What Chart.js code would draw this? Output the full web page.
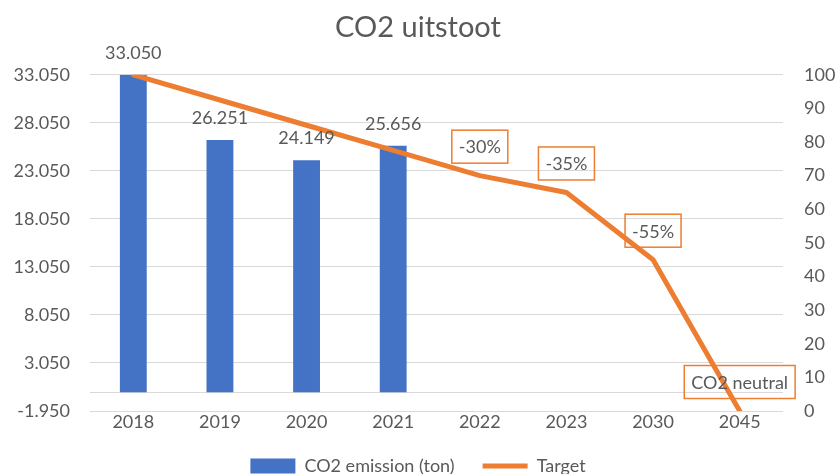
<!DOCTYPE html>
<html>
<head>
<meta charset="utf-8">
<script src="https://cdn.jsdelivr.net/npm/chart.js@4/dist/chart.umd.min.js"></script>
<style>
  html,body{margin:0;padding:0;background:#fff;overflow:hidden}
  #wrap{width:836px;height:485px;position:relative}
</style>
</head>
<body>
<div id="wrap"><canvas id="c"></canvas></div>
<script>
const years = ['2018','2019','2020','2021','2022','2023','2030','2045'];
const emission = [33050, 26251, 24149, 25656, null, null, null, null];
const target = [100, 92.5, 85, 77.5, 70, 65, 45, 0];
const targetLabels = ['', '', '', '', '-30%', '-35%', '-55%', 'CO2 neutral'];
const leftMin = -1950, leftMax = 33050, leftStep = 5000;
const rightMin = 0, rightMax = 100, rightStep = 10;

const BLUE = '#4472C4', ORANGE = '#ED7D31', TXT = '#595959', GRID = '#D9D9D9';
const FONT = 'Lato, "Open Sans", sans-serif';

// 33050 -> "33.050"
function nl(v){
  const s = String(Math.abs(Math.round(v))).replace(/\B(?=(\d{3})+(?!\d))/g, '.');
  return (v < 0 ? '-' : '') + s;
}

// extra line at zero and the data labels
const labelsPlugin = {
  id: 'labelsPlugin',
  beforeDatasetsDraw(chart){
    const {ctx, chartArea, scales} = chart;
    const y0 = Math.round(scales.y.getPixelForValue(0)) + 0.5;
    ctx.save();
    ctx.strokeStyle = GRID; ctx.lineWidth = 1;
    ctx.beginPath(); ctx.moveTo(chartArea.left, y0); ctx.lineTo(chartArea.right, y0); ctx.stroke();
    ctx.restore();
  },
  afterDatasetsDraw(chart){
    const {ctx} = chart;
    ctx.save();
    ctx.font = '18px ' + FONT;
    ctx.fillStyle = TXT;
    ctx.textAlign = 'center'; ctx.textBaseline = 'middle';
    chart.getDatasetMeta(0).data.forEach((bar, i)=>{
      if (emission[i] == null) return;
      ctx.fillText(nl(emission[i]), bar.x, bar.y - 22);
    });
    chart.getDatasetMeta(1).data.forEach((pt, i)=>{
      const t = targetLabels[i]; if (!t) return;
      const w = ctx.measureText(t).width + 14, h = 33;
      const cy = pt.y - 29;
      ctx.strokeStyle = ORANGE; ctx.lineWidth = 1.5;
      ctx.strokeRect(pt.x - w/2, cy - h/2, w, h);
      ctx.fillText(t, pt.x, cy + 1);
    });
    ctx.restore();
  }
};

new Chart(document.getElementById('c'), {
  data: {
    labels: years,
    datasets: [
      { type:'bar', label:'CO2 emission (ton)', data: emission, backgroundColor: BLUE, yAxisID:'y',
        barPercentage: 0.31, categoryPercentage: 1, order: 2 },
      { type:'line', label:'Target', data: target, borderColor: ORANGE, backgroundColor: ORANGE,
        borderWidth: 5, pointRadius: 0, tension: 0, yAxisID:'y1', order: 1,
        borderJoinStyle:'round', borderCapStyle:'round' }
    ]
  },
  options: {
    responsive: true, maintainAspectRatio: false, animation: false,
    layout: { padding: 0 },
    plugins: {
      title: { display: true, text: 'CO2 uitstoot', color: TXT,
        font: { family: FONT, size: 29, weight: 'normal' }, padding: { top: 10, bottom: 30 } },
      legend: { position: 'bottom',
        labels: { color: TXT, font: { family: FONT, size: 18 }, usePointStyle: true, pointStyleWidth: 45,
          boxHeight: 15, padding: 28,
          generateLabels(chart){
            return chart.data.datasets.map((d, i)=>({
              text: d.label, fillStyle: d.backgroundColor, strokeStyle: d.type==='line' ? ORANGE : BLUE,
              lineWidth: d.type==='line' ? 5 : 0, pointStyle: d.type==='line' ? 'line' : 'rect',
              fontColor: TXT, datasetIndex: i, hidden: false
            }));
          } } },
      tooltip: { enabled: false }
    },
    scales: {
      x: { grid: { display: false, drawTicks: false }, border: { display: false },
        afterFit(s){ s.height = 18; },
        ticks: { color: TXT, font: { family: FONT, size: 18 }, padding: 0 } },
      y: { position: 'left', min: leftMin, max: leftMax,
        afterFit(s){ s.width = 90; },
        afterBuildTicks(s){ const t = []; for (let v = leftMin; v <= leftMax; v += leftStep) t.push({value: v}); s.ticks = t; },
        grid: { color: GRID, lineWidth: 1, drawTicks: false }, border: { display: false },
        ticks: { color: TXT, font: { family: FONT, size: 18 }, padding: 20, callback: v => nl(v) } },
      y1: { position: 'right', min: rightMin, max: rightMax,
        afterFit(s){ s.width = 53; },
        grid: { display: false }, border: { display: false },
        ticks: { stepSize: rightStep, color: TXT, font: { family: FONT, size: 18 }, padding: 13 } }
    }
  },
  plugins: [labelsPlugin]
});
</script>
</body>
</html>
